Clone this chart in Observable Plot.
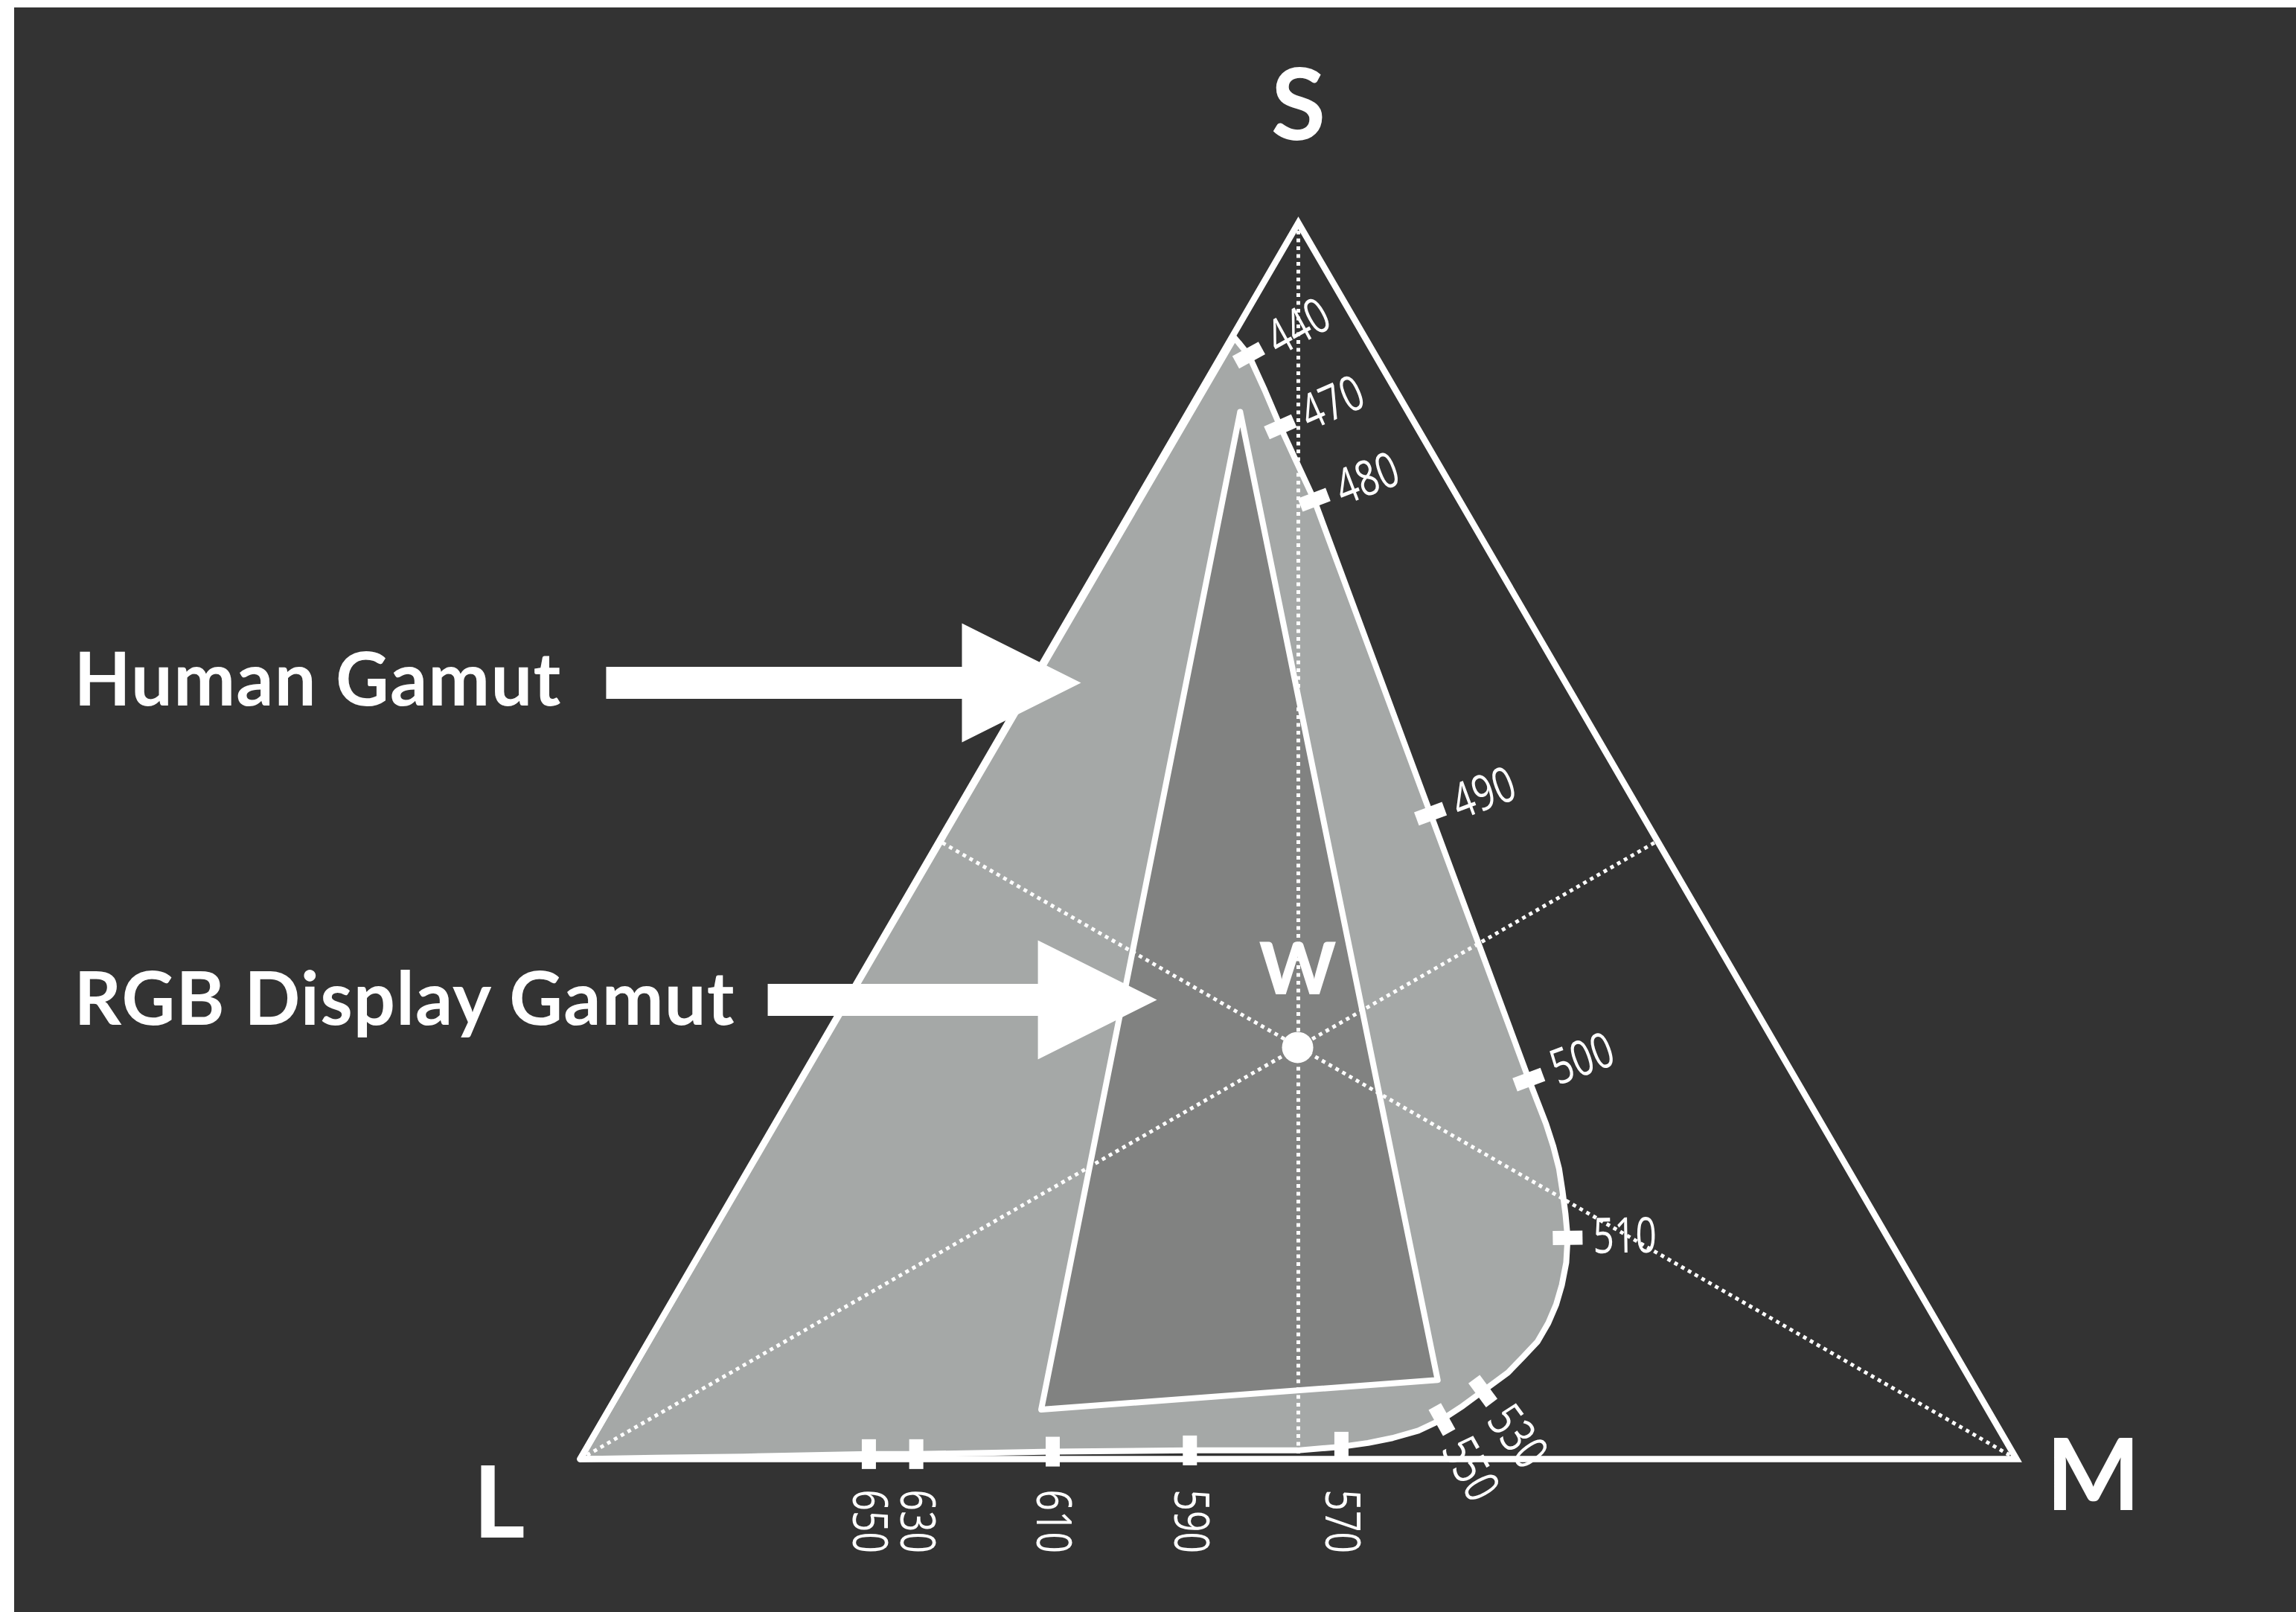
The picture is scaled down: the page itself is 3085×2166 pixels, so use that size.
<!DOCTYPE html>
<html>
<head>
<meta charset="utf-8">
<script src="https://cdn.jsdelivr.net/npm/d3@7"></script>
<script src="https://cdn.jsdelivr.net/npm/@observablehq/plot@0.6"></script>
<style>
  html, body { margin: 0; padding: 0; background: #ffffff; overflow: hidden; }
</style>
</head>
<body>
<script>
// ---- DATA (cone-fraction / ternary coordinates: m = M fraction, s = S fraction, l = 1 - m - s) ----
const vertexNames = ["L", "M", "S"];
const vertexM = [0, 1, 0];
const vertexS = [0, 0, 1];

// Spectral locus (human gamut outline), traced in order
const locusM = [0, 0.002, 0.007, 0.019, 0.044, 0.070, 0.096, 0.123, 0.331, 0.507,
  0.522, 0.537, 0.551, 0.564, 0.576, 0.587, 0.598, 0.607, 0.613, 0.617,
  0.619, 0.619, 0.615, 0.611, 0.601, 0.593, 0.584, 0.572, 0.557, 0.542,
  0.525, 0.496, 0.421, 0.326, 0.232, 0.199, 0.113, 0.052, 0];
const locusS = [0, 0.907, 0.903, 0.893, 0.865, 0.835, 0.806, 0.776, 0.522, 0.307,
  0.289, 0.271, 0.253, 0.235, 0.216, 0.198, 0.179, 0.159, 0.141, 0.125,
  0.110, 0.095, 0.082, 0.070, 0.055, 0.043, 0.032, 0.023, 0.017, 0.013,
  0.010, 0.007, 0.007, 0.006, 0.004, 0.004, 0.002, 0.001, 0];

// Wavelength ticks (nm) on the locus
const tickWavelengths = [440, 470, 480, 490, 500, 510, 530, 550, 570, 590, 610, 630, 650];
const tickM = [0.019, 0.070, 0.123, 0.331, 0.507, 0.598, 0.601, 0.584, 0.525, 0.421, 0.326, 0.232, 0.199];
const tickS = [0.893, 0.835, 0.776, 0.522, 0.307, 0.179, 0.055, 0.032, 0.010, 0.007, 0.006, 0.004, 0.004];

// RGB display gamut primaries (B, G, R)
const rgbM = [0.036, 0.565, 0.301];
const rgbS = [0.847, 0.064, 0.040];

// White point
const whiteLabel = "W";
const whiteM = 0.333;
const whiteS = 0.333;

// Annotations, in the plot plane (x = m + s/2, y = s)
const annotationText = ["Human Gamut", "RGB Display Gamut"];
const annotationX = [-0.3523, -0.3523];
const annotationY = [0.6093, 0.3510];
const arrowTailX = [0.0181, 0.1306];
const arrowTipX = [0.3487, 0.4016];
const arrowY = [0.6279, 0.3715];
const vertexLabelX = [-0.0565, 1.0534, 0.5];
const vertexLabelY = [-0.0638, -0.0415, 1.0674];

// ---- COLOURS ----
const bg = "#333333";
const gamutFill = "#a5a8a7";
const rgbFill = "#818281";
const ink = "#ffffff";

// ---- SCALES ----
const xScaleOpt = {domain: [0, 1], range: [760, 2690]};
const yScaleOpt = {domain: [0, 1], range: [1950, 289]};
const sx = Plot.scale({x: xScaleOpt});
const sy = Plot.scale({y: yScaleOpt});

const proj = (m, s) => ({x: m + s / 2, y: s});
const toPx = (p) => [sx.apply(p.x), sy.apply(p.y)];
const fromPx = (px, py) => ({x: sx.invert(px), y: sy.invert(py)});

// ---- DERIVED MARK DATA ----
const locus = locusM.map((m, i) => proj(m, locusS[i]));
const locusPx = locus.map(toPx);
const rgb = rgbM.map((m, i) => proj(m, rgbS[i]));
rgb.push(rgb[0]);
const vertices = vertexM.map((m, i) => ({...proj(m, vertexS[i]), name: vertexNames[i]}));
const triangle = [...vertices, vertices[0]];
const white = proj(whiteM, whiteS);
const whitePx = toPx(white);

// medians: vertex -> midpoint of opposite side
const medians = vertexM.map((m, i) => {
  const j = (i + 1) % 3, k = (i + 2) % 3;
  const mid = proj((vertexM[j] + vertexM[k]) / 2, (vertexS[j] + vertexS[k]) / 2);
  const v = proj(m, vertexS[i]);
  return {x1: v.x, y1: v.y, x2: mid.x, y2: mid.y};
});

const TICK_HALF = 20, LABEL_GAP = 34, BASE_LABEL_GAP = 41;
const ticks = [], tickLabels = [];
tickWavelengths.forEach((w, t) => {
  const p = proj(tickM[t], tickS[t]);
  const [px, py] = toPx(p);
  let bi = 1, bd = Infinity;
  for (let i = 1; i < locusPx.length - 1; i++) {
    const d = (locusPx[i][0] - px) ** 2 + (locusPx[i][1] - py) ** 2;
    if (d < bd) { bd = d; bi = i; }
  }
  let tx = locusPx[bi + 1][0] - locusPx[bi - 1][0];
  let ty = locusPx[bi + 1][1] - locusPx[bi - 1][1];
  const tl = Math.hypot(tx, ty); tx /= tl; ty /= tl;
  let nx = ty, ny = -tx;
  if (nx * (px - whitePx[0]) + ny * (py - whitePx[1]) < 0) { nx = -nx; ny = -ny; }
  let angle = Math.atan2(ny, nx) * 180 / Math.PI;
  if (Math.abs(angle - 90) < 8) { angle = 90; nx = 0; ny = 1; }
  const a = fromPx(px - nx * TICK_HALF, py - ny * TICK_HALF);
  const b = fromPx(px + nx * TICK_HALF, py + ny * TICK_HALF);
  ticks.push({x1: a.x, y1: a.y, x2: b.x, y2: b.y});
  let lp;
  if (angle === 90) lp = fromPx(px, sy.apply(0) + BASE_LABEL_GAP);
  else lp = fromPx(px + nx * LABEL_GAP, py + ny * LABEL_GAP);
  tickLabels.push({x: lp.x, y: lp.y, text: String(w), rotate: angle});
});

// arrows as filled polygons
const SHAFT_HALF = 21.5, HEAD_HALF = 80, HEAD_LEN = 160;
const arrows = [];
annotationText.forEach((label, i) => {
  const x0 = sx.apply(arrowTailX[i]), x1 = sx.apply(arrowTipX[i]), cy = sy.apply(arrowY[i]);
  const hb = x1 - HEAD_LEN;
  [[x0, cy - SHAFT_HALF], [hb, cy - SHAFT_HALF], [hb, cy - HEAD_HALF], [x1, cy],
   [hb, cy + HEAD_HALF], [hb, cy + SHAFT_HALF], [x0, cy + SHAFT_HALF]]
    .forEach(([a, b]) => arrows.push({id: i, ...fromPx(a, b)}));
});
const annotations = annotationText.map((t, i) => ({text: t, x: annotationX[i], y: annotationY[i]}));
const vertexLabels = vertexNames.map((n, i) => ({text: n, x: vertexLabelX[i], y: vertexLabelY[i]}));

const boldFont = "Lato, 'Open Sans', 'DejaVu Sans', sans-serif";
const thinFont = "'Open Sans', Roboto, 'Liberation Sans', sans-serif";
const TICK_FONT = 66;
const NOTE_FONT = 99;

const chart = Plot.plot({
  width: 3066,
  height: 2156,
  margin: 0,
  x: {...xScaleOpt, axis: null},
  y: {...yScaleOpt, axis: null},
  style: `background:${bg};margin:10px 0 0 19px;display:block;max-width:none;`,
  marks: [
    Plot.line(locus, {x: "x", y: "y", fill: gamutFill, stroke: ink, strokeWidth: 8, strokeLinejoin: "round", strokeLinecap: "round"}),
    Plot.line(rgb, {x: "x", y: "y", fill: rgbFill, stroke: ink, strokeWidth: 8, strokeLinejoin: "round"}),
    Plot.link(medians, {x1: "x1", y1: "y1", x2: "x2", y2: "y2", stroke: ink, strokeWidth: 5, strokeDasharray: "5,5.5", strokeLinecap: "butt"}),
    Plot.line(triangle, {x: "x", y: "y", stroke: ink, strokeWidth: 8.5, strokeLinejoin: "miter", strokeMiterlimit: 10}),
    Plot.link(ticks, {x1: "x1", y1: "y1", x2: "x2", y2: "y2", stroke: ink, strokeWidth: 19, strokeLinecap: "butt"}),
    Plot.text(tickLabels, {x: "x", y: "y", text: "text", rotate: "rotate", textAnchor: "start", lineAnchor: "middle",
      fill: ink, fontSize: TICK_FONT, fontWeight: 400, fontFamily: thinFont}),
    Plot.dot([white], {x: "x", y: "y", r: 21, fill: ink, stroke: "none"}),
    Plot.text([white], {x: "x", y: "y", text: () => whiteLabel, dy: -71, lineAnchor: "bottom", textAnchor: "middle",
      fill: ink, fontSize: 98, fontWeight: 900, fontFamily: boldFont}),
    Plot.text(vertexLabels, {x: "x", y: "y", text: "text", lineAnchor: "bottom", textAnchor: "middle",
      fill: ink, fontSize: 134, fontWeight: 700, fontFamily: boldFont}),
    Plot.line(arrows, {x: "x", y: "y", z: "id", fill: ink, stroke: "none"}),
    Plot.text(annotations, {x: "x", y: "y", text: "text", lineAnchor: "bottom", textAnchor: "start",
      fill: ink, fontSize: NOTE_FONT, fontWeight: 700, fontFamily: boldFont})
  ]
});
// condensed look for the wavelength labels (narrow face not installed)
d3.select(chart).selectAll(`g[font-size="${TICK_FONT}"] text`)
  .attr("textLength", function() { return 28.5 * this.textContent.length; })
  .attr("lengthAdjust", "spacingAndGlyphs");
d3.select(chart).selectAll(`g[font-size="${NOTE_FONT}"]`).style("letter-spacing", "1.2px");
document.body.appendChild(chart);
</script>
</body>
</html>
